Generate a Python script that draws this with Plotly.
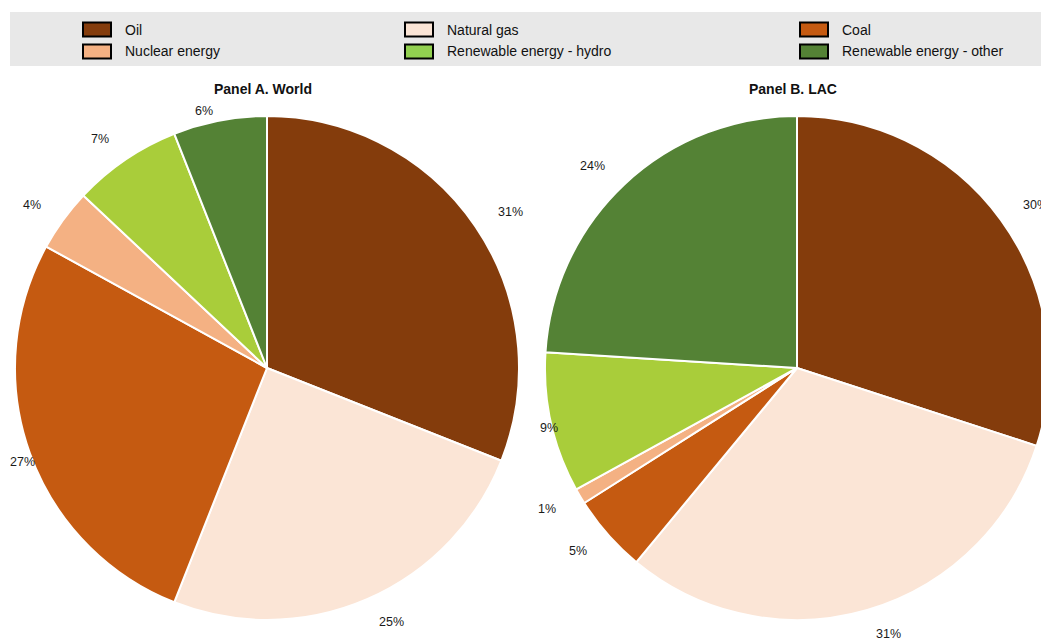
import math
import plotly.graph_objects as go

categories = ["Oil", "Natural gas", "Coal", "Nuclear energy",
              "Renewable energy - hydro", "Renewable energy - other"]
world_values = [31, 25, 27, 4, 7, 6]
lac_values = [30, 31, 5, 1, 9, 24]
panel_titles = ["Panel A. World", "Panel B. LAC"]

slice_colors = ["#843C0C", "#FBE5D6", "#C55A11", "#F4B183", "#A9CD3A", "#548235"]
legend_colors = ["#843C0C", "#FBE5D6", "#C55A11", "#F4B183", "#92D050", "#548235"]

W, H = 1049, 640
FONT = "Liberation Sans, Arial, Helvetica, sans-serif"
LABEL_SIZE = 12.5

# pie geometry (pixels)
R = 252
centers = [(267, 368), (797, 368)]
panel_left = [8, 538]   # left limit of each panel for its labels


def text_width(s, size):
    return sum((0.889 if ch == "%" else 0.556) * size for ch in s)


fig = go.Figure()
for (cx, cy), vals in zip(centers, [world_values, lac_values]):
    fig.add_trace(go.Pie(
        labels=categories, values=vals, sort=False, direction="clockwise",
        rotation=0, textinfo="none", hoverinfo="label+percent",
        marker=dict(colors=slice_colors, line=dict(color="white", width=2)),
        domain=dict(x=[(cx - R) / W, min(1, (cx + R) / W)],
                    y=[1 - (cy + R) / H, 1 - (cy - R) / H]),
        showlegend=False,
    ))

annotations = []
shapes = []
# percentage labels at 1.1 * radius on each slice's mid-angle, left-justified
# on the right half and right-justified on the left half, kept inside the panel
for (cx, cy), vals, left in zip(centers, [world_values, lac_values], panel_left):
    total = sum(vals)
    cum = 0
    for v in vals:
        mid = (cum + v / 2) / total * 2 * math.pi
        cum += v
        txt = f"{round(v / total * 100)}%"
        px = cx + 1.1 * R * math.sin(mid)
        py = cy - 1.1 * R * math.cos(mid)
        anchor = "left" if math.sin(mid) > 0 else "right"
        if anchor == "right" and px - text_width(txt, LABEL_SIZE) < left:
            anchor, px = "left", left
        py = max(py, 111)
        annotations.append(dict(
            x=px / W, y=1 - py / H, xref="paper", yref="paper",
            text=txt, showarrow=False,
            xanchor=anchor, yanchor="middle",
            font=dict(family=FONT, size=LABEL_SIZE, color="#1a1a1a"),
        ))

# panel titles
for (cx, cy), t in zip(centers, panel_titles):
    annotations.append(dict(
        x=(cx - 4) / W, y=1 - 89 / H, xref="paper", yref="paper",
        text=f"<b>{t}</b>", showarrow=False, xanchor="center", yanchor="middle",
        font=dict(family=FONT, size=14, color="#111111"),
    ))

# legend background
shapes.append(dict(type="rect", xref="paper", yref="paper",
                   x0=10 / W, x1=1, y0=1 - 66 / H, y1=1 - 12 / H,
                   fillcolor="#E8E8E8", line=dict(width=0), layer="below"))
col_x = [83, 405, 800]
row_y = [29.5, 51.5]
for i, (cat, col) in enumerate(zip(categories, legend_colors)):
    c, r = i % 3, i // 3
    x0, yc = col_x[c], row_y[r]
    shapes.append(dict(type="rect", xref="paper", yref="paper",
                       x0=x0 / W, x1=(x0 + 28) / W,
                       y0=1 - (yc + 7) / H, y1=1 - (yc - 7) / H,
                       fillcolor=col, line=dict(color="black", width=2)))
    annotations.append(dict(
        x=(x0 + 40) / W, y=1 - yc / H, xref="paper", yref="paper",
        text=cat, showarrow=False, xanchor="left", yanchor="middle",
        font=dict(family=FONT, size=14, color="#111111"),
    ))

fig.update_layout(
    width=W, height=H, autosize=False,
    margin=dict(l=0, r=0, t=0, b=0),
    paper_bgcolor="white", plot_bgcolor="white",
    font=dict(family=FONT),
    annotations=annotations, shapes=shapes,
)

fig.write_html("out.html", config={"displayModeBar": False}, post_script=(
    "document.body.style.margin='0';"
    "document.body.style.overflow='hidden';"
    "document.documentElement.style.overflow='hidden';"))
